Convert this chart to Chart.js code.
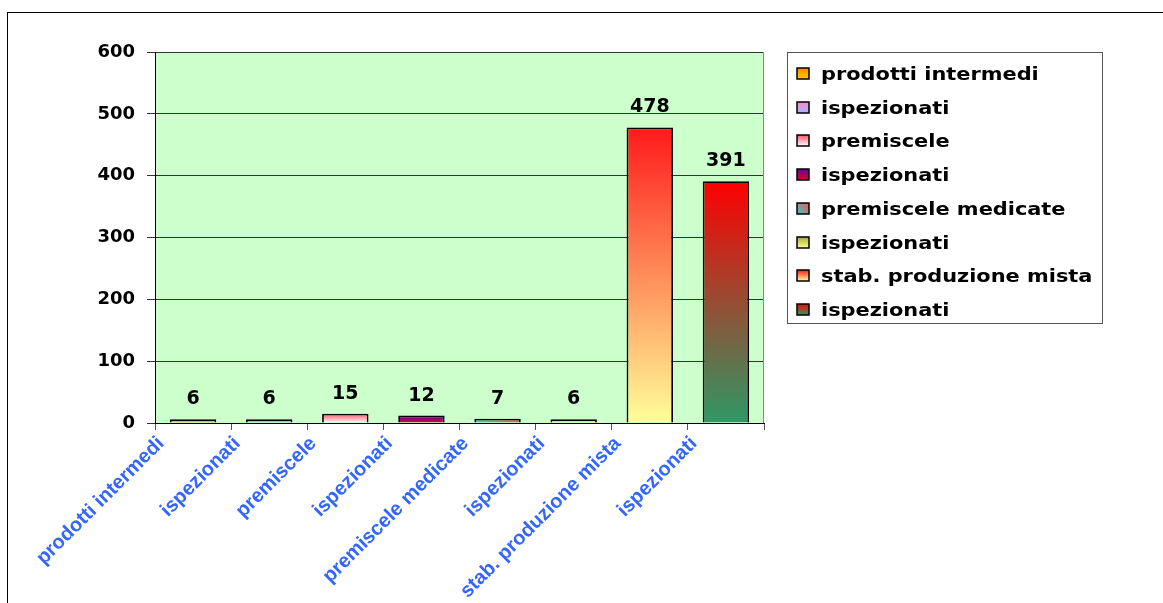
<!DOCTYPE html>
<html><head><meta charset="utf-8">
<script src="https://cdn.jsdelivr.net/npm/chart.js@4"></script>
<style>html,body{margin:0;padding:0;background:#fff;overflow:hidden}canvas{display:block}</style>
</head><body>
<canvas id="c" width="1163" height="603"></canvas>
<script>
const categories = ['prodotti intermedi','ispezionati','premiscele','ispezionati','premiscele medicate','ispezionati','stab. produzione mista','ispezionati'];
const values = [6, 6, 15, 12, 7, 6, 478, 391];
const yTicks = [0, 100, 200, 300, 400, 500, 600];

// fill styles: [start colour, end colour, direction]
const barFills = [
  ['#ff8800', '#ffcc00', 'v'],
  ['#ff88cc', '#a0b8ff', 'v'],
  ['#ff5566', '#ffffff', 'v'],
  ['#660099', '#dd0033', 'v'],
  ['#33cccc', '#ff5050', 'd'],
  ['#aaaa33', '#ffff99', 'v'],
  ['#ff1a1a', '#ffff99', 'v'],
  ['#ff0000', '#2e9966', 'v']
];

function makeGrad(ctx, i, x0, y0, x1, y1) {
  const f = barFills[i];
  if (![x0, y0, x1, y1].every(Number.isFinite)) return f[1];
  let g;
  if (f[2] === 'd') g = ctx.createLinearGradient(x0, y1, x1, y0);
  else g = ctx.createLinearGradient(0, y0, 0, y1);
  g.addColorStop(0, f[0]);
  g.addColorStop(1, f[1]);
  return g;
}

const framePlugin = {
  id: 'frame',
  beforeDraw(chart) {
    const ctx = chart.ctx, a = chart.chartArea;
    ctx.save();
    ctx.fillStyle = '#fff';
    ctx.fillRect(0, 0, chart.width, chart.height);
    ctx.fillStyle = '#ccffcc';
    ctx.fillRect(a.left, a.top, a.right - a.left, a.bottom - a.top);
    ctx.restore();
  },
  beforeDatasetsDraw(chart) {
    const ctx = chart.ctx, a = chart.chartArea;
    ctx.save();
    ctx.strokeStyle = '#888';
    ctx.lineWidth = 1;
    ctx.beginPath();
    ctx.moveTo(Math.round(a.right) - 0.5, a.top);
    ctx.lineTo(Math.round(a.right) - 0.5, a.bottom);
    ctx.stroke();
    ctx.restore();
  },
  afterDatasetsDraw(chart) {
    const ctx = chart.ctx;
    const meta = chart.getDatasetMeta(0);
    ctx.save();
    ctx.fillStyle = '#000';
    ctx.font = 'bold 19px "DejaVu Sans"';
    ctx.textAlign = 'center';
    ctx.textBaseline = 'alphabetic';
    meta.data.forEach((el, i) => {
      ctx.fillText(String(values[i]), el.x, el.y - 15);
    });
    ctx.restore();
  },
  afterDraw(chart) {
    const ctx = chart.ctx;
    ctx.save();
    ctx.strokeStyle = '#000';
    ctx.lineWidth = 1;
    ctx.strokeRect(7.5, 12.5, 1170, 620);
    const L = 787.5, T = 52.5, W = 315, H = 271;
    ctx.fillStyle = '#fff';
    ctx.fillRect(L, T, W, H);
    ctx.strokeStyle = '#555';
    ctx.strokeRect(L, T, W, H);
    categories.forEach((lab, i) => {
      const cy = 73.5 + i * 33.7;
      const sx = 797, sy = Math.round(cy - 5.5), sw = 12, sh = 11;
      ctx.fillStyle = makeGrad(ctx, i, sx, sy, sx + sw, sy + sh);
      ctx.fillRect(sx, sy, sw, sh);
      ctx.strokeStyle = '#000';
      ctx.lineWidth = 1.5;
      ctx.strokeRect(sx, sy, sw, sh);
      ctx.save();
      ctx.translate(821, cy + 6.5);
      ctx.scale(1.16, 1);
      ctx.font = 'bold 18px "DejaVu Sans"';
      ctx.fillStyle = '#000';
      ctx.textBaseline = 'alphabetic';
      ctx.textAlign = 'left';
      ctx.fillText(lab, 0, 0);
      ctx.restore();
    });
    ctx.restore();
  }
};

Chart.defaults.font.family = 'DejaVu Sans';

new Chart(document.getElementById('c'), {
  type: 'bar',
  data: {
    labels: categories,
    datasets: [{
      data: values,
      backgroundColor: (c) => {
        const chart = c.chart;
        const xs = chart.scales.x, ys = chart.scales.y;
        if (!xs || !ys || c.dataIndex === undefined) return '#cccccc';
        const i = c.dataIndex;
        const cx = xs.getPixelForValue(i);
        const hw = (xs.width / categories.length) * 0.61 / 2;
        const top = ys.getPixelForValue(values[i]);
        const base = ys.getPixelForValue(0);
        return makeGrad(chart.ctx, i, cx - hw, top, cx + hw, base);
      },
      borderColor: '#000',
      borderWidth: 1.8,
      categoryPercentage: 1,
      barPercentage: 0.61
    }]
  },
  options: {
    responsive: false,
    animation: false,
    devicePixelRatio: 1,
    layout: { padding: { left: 95, top: 52, right: 399, bottom: 0 } },
    plugins: { legend: { display: false }, tooltip: { enabled: false } },
    scales: {
      y: {
        min: 0, max: 600,
        afterBuildTicks: s => { s.ticks = yTicks.map(v => ({ value: v })); },
        afterFit: s => { s.width = 60; },
        grid: { color: '#333', lineWidth: 1, tickLength: 8, drawTicks: true },
        border: { color: '#000', width: 1 },
        ticks: { font: { family: 'DejaVu Sans', size: 18, weight: 'bold' }, color: '#000', padding: 12 }
      },
      x: {
        afterFit: s => { s.height = 180; },
        grid: { display: true, drawOnChartArea: false, tickLength: 7, color: '#555', offset: true },
        border: { color: '#000', width: 1 },
        ticks: { font: { family: 'Liberation Sans', size: 20, weight: 'bold' }, color: '#3366ff', maxRotation: 45, minRotation: 45, autoSkip: false, padding: 2, labelOffset: -32 }
      }
    }
  },
  plugins: [framePlugin]
});
</script>
</body></html>
